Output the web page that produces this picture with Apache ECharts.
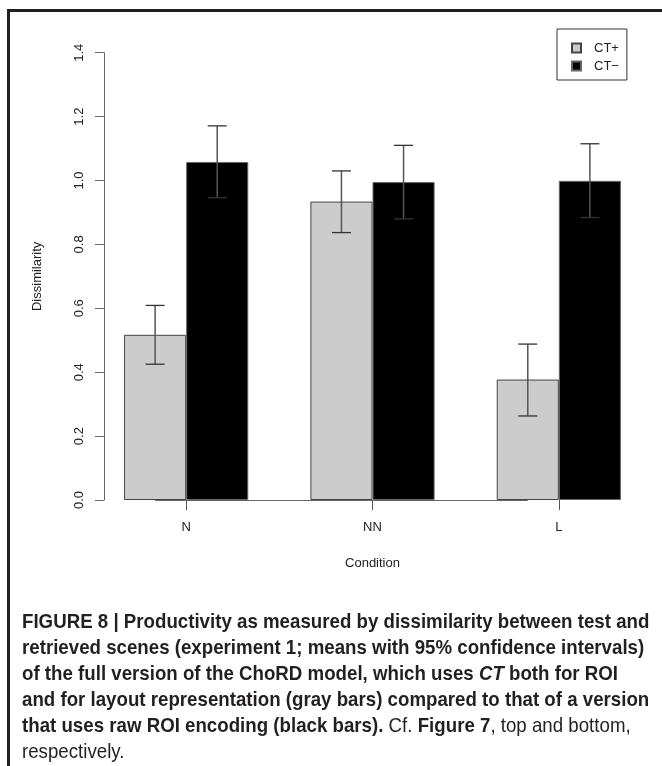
<!DOCTYPE html>
<html>
<head>
<meta charset="utf-8">
<script src="https://cdn.jsdelivr.net/npm/echarts@6/dist/echarts.min.js"></script>
<style>
html,body{margin:0;padding:0;background:#fff;}
#c{width:662px;height:766px;}
</style>
</head>
<body>
<div id="c"></div>
<script>
// ---- data ----
var categories = ['N', 'NN', 'L'];
var seriesNames = ['CT+', 'CT\u2212'];
var ctPlus = [0.517, 0.934, 0.377];
var ctPlusLow = [0.425, 0.837, 0.263];
var ctPlusHigh = [0.609, 1.030, 0.488];
var ctMinus = [1.058, 0.995, 0.999];
var ctMinusLow = [0.946, 0.880, 0.884];
var ctMinusHigh = [1.171, 1.110, 1.115];
var yTicks = [0, 0.2, 0.4, 0.6, 0.8, 1.0, 1.2, 1.4];

var chart = echarts.init(document.getElementById('c'), null, {renderer: 'canvas'});

var FONT = '"Liberation Sans", Arial, sans-serif';

function errorSeries(idx, low, high) {
  var data = categories.map(function (c, i) { return [i, low[i], high[i]]; });
  return {
    type: 'custom',
    name: seriesNames[idx] + ' err',
    z: 5,
    silent: true,
    data: data,
    renderItem: function (params, api) {
      var ci = api.value(0);
      var pLow = api.coord([ci, api.value(1)]);
      var pHigh = api.coord([ci, api.value(2)]);
      var band = api.size([1, 0])[0];
      var bw = band * (1 - 1 / 3) / 2;
      var x = pLow[0] + (idx === 0 ? -bw / 2 : bw / 2);
      var cap = 9.5;
      var st = {stroke: '#333', lineWidth: 1.3};
      return {
        type: 'group',
        children: [
          {type: 'line', shape: {x1: x, y1: pLow[1], x2: x, y2: pHigh[1]}, style: {stroke: '#555', lineWidth: 1.5}},
          {type: 'line', shape: {x1: x - cap, y1: pHigh[1], x2: x + cap, y2: pHigh[1]}, style: st},
          {type: 'line', shape: {x1: x - cap, y1: pLow[1], x2: x + cap, y2: pLow[1]}, style: st}
        ]
      };
    }
  };
}

var caption =
  '{b|FIGURE 8 | Productivity as measured by dissimilarity between test and}\n' +
  '{b|retrieved scenes (experiment 1; means with 95% confidence intervals)}\n' +
  '{b|of the full version of the ChoRD model, which uses }{bi|CT}{b| both for ROI}\n' +
  '{b|and for layout representation (gray bars) compared to that of a version}\n' +
  '{b|that uses raw ROI encoding (black bars).}{r| Cf. }{b|Figure 7}{r|, top and bottom,}\n' +
  '{r|respectively.}';

var CAPFONT = '"Liberation Sans", Arial, sans-serif';
var capBase = {fontFamily: CAPFONT, fontSize: 21, lineHeight: 26, fill: '#231f20'};

var option = {
  backgroundColor: '#ffffff',
  animation: false,
  textStyle: {fontFamily: FONT},
  graphic: [
    {
      type: 'rect',
      shape: {x: 8.5, y: 10.5, width: 700, height: 800},
      style: {fill: null, stroke: '#231f20', lineWidth: 3},
      silent: true
    },
    {
      type: 'text',
      x: 22,
      y: 609,
      scaleX: 0.89,
      silent: true,
      style: {
        text: caption,
        fontFamily: CAPFONT,
        fontSize: 21,
        lineHeight: 26,
        fill: '#231f20',
        rich: {
          b: Object.assign({fontWeight: 'bold'}, capBase),
          bi: Object.assign({fontWeight: 'bold', fontStyle: 'italic'}, capBase),
          r: Object.assign({fontWeight: 'normal', fill: '#333'}, capBase)
        }
      }
    }
  ],
  legend: {
    orient: 'vertical',
    left: 557,
    top: 29,
    padding: [12, 8, 7, 14],
    itemWidth: 9,
    itemHeight: 9,
    itemGap: 4,
    borderColor: '#333',
    borderWidth: 1,
    borderRadius: 0,
    icon: 'rect',
    data: seriesNames,
    textStyle: {fontFamily: FONT, fontSize: 13, color: '#222', lineHeight: 14, padding: [0, 0, 0, 8]}
  },
  grid: {left: 93, right: 10, top: 52.7, height: 447.3, containLabel: false},
  xAxis: {
    type: 'category',
    data: categories,
    name: 'Condition',
    nameLocation: 'middle',
    nameGap: 57,
    nameTextStyle: {fontFamily: FONT, fontSize: 13, color: '#222'},
    axisLine: {show: false},
    axisTick: {show: true, alignWithLabel: true, length: 10, lineStyle: {color: '#555', width: 1}},
    axisLabel: {margin: 21, fontFamily: FONT, fontSize: 13, color: '#222'},
    splitLine: {show: false}
  },
  yAxis: {
    type: 'value',
    min: 0,
    max: 1.4,
    interval: 0.2,
    offset: -11,
    name: 'Dissimilarity',
    nameLocation: 'middle',
    nameGap: 60,
    nameTextStyle: {fontFamily: FONT, fontSize: 13, color: '#222'},
    axisLine: {show: true, lineStyle: {color: '#666', width: 1}},
    axisTick: {show: true, length: 9, lineStyle: {color: '#666', width: 1}},
    axisLabel: {
      rotate: 90, margin: 18, fontFamily: FONT, fontSize: 13, color: '#222',
      formatter: function (v) { return v.toFixed(1); }
    },
    splitLine: {show: false}
  },
  series: [
    {
      name: seriesNames[0],
      type: 'bar',
      data: ctPlus,
      barGap: '0%',
      barCategoryGap: '33.333%',
      itemStyle: {color: '#cccccc', borderColor: '#444', borderWidth: 1},
      markLine: {
        silent: true,
        symbol: 'none',
        label: {show: false},
        lineStyle: {color: '#666', width: 1, type: 'solid'},
        data: [[{coord: [categories[0], 0]}, {coord: [categories[2], 0]}]]
      }
    },
    {
      name: seriesNames[1],
      type: 'bar',
      data: ctMinus,
      barGap: '0%',
      barCategoryGap: '33.333%',
      itemStyle: {color: '#000000', borderColor: '#666', borderWidth: 1}
    },
    errorSeries(0, ctPlusLow, ctPlusHigh),
    errorSeries(1, ctMinusLow, ctMinusHigh)
  ]
};

chart.setOption(option);
</script>
</body>
</html>
